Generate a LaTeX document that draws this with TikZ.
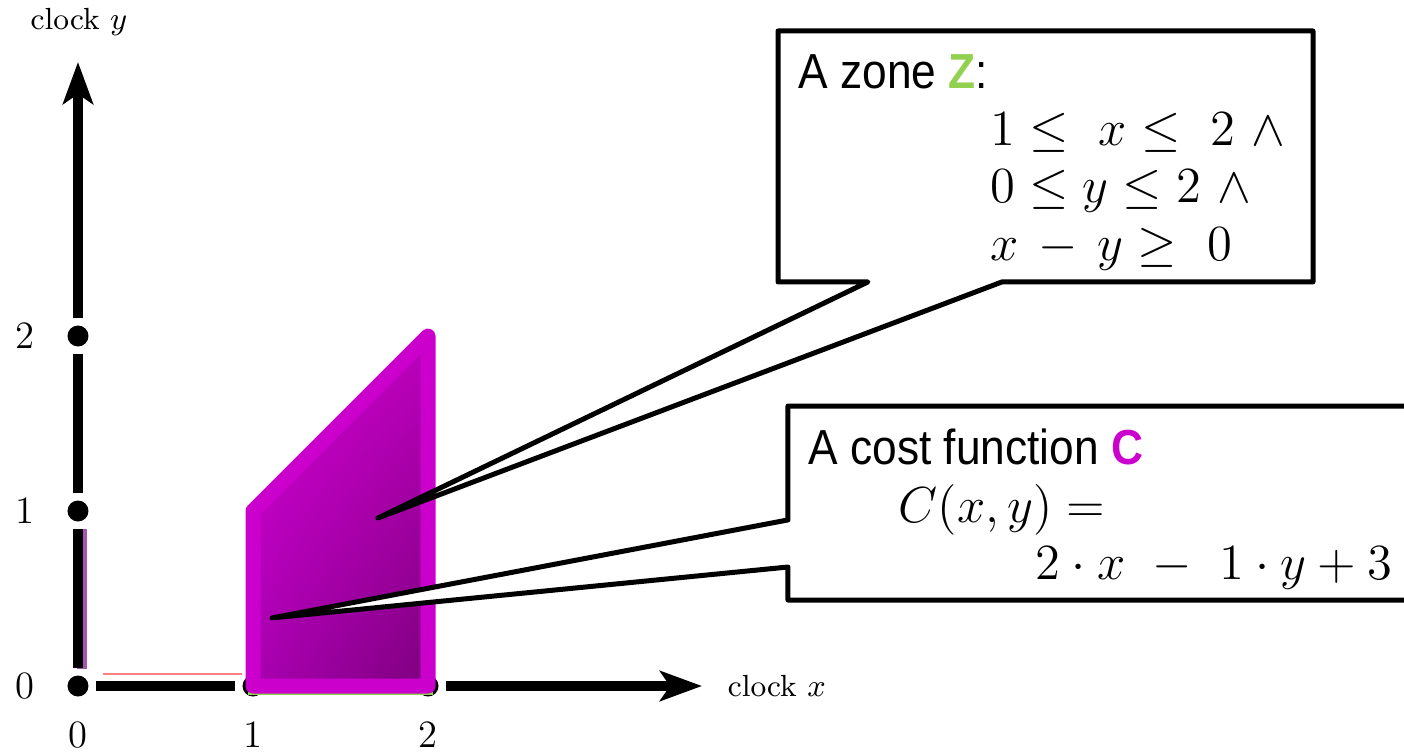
\documentclass[tikz,border=0pt]{standalone}
\usepackage{amsmath, amssymb}
\usepackage{fontspec}
\newfontfamily\calloutfont[FakeStretch=0.9]{Liberation Sans}
\usepackage{xcolor}
\usepackage{tikz}
\usetikzlibrary{arrows.meta, calc, shadings}

\definecolor{zonemag}{HTML}{CC00CC}
\definecolor{zonegreen}{HTML}{92D050}
\definecolor{zoneshadeA}{HTML}{D400D4}
\definecolor{zoneshadeB}{HTML}{BA00BA}
\definecolor{zoneshadeC}{HTML}{A800B0}
\definecolor{zoneshadeD}{HTML}{7E007E}
\definecolor{projpurple}{HTML}{A855B0}
\definecolor{projred}{HTML}{FF8080}

\begin{document}
\begin{tikzpicture}[x=1.75cm, y=1.75cm,
    axis/.style={line width=0.1cm, shorten <=0.07cm, shorten >=0.07cm},
    axisarrow/.style={line width=0.1cm, shorten <=0.07cm,
        -{Stealth[length=0.42cm, width=0.3cm, inset=0.1cm]}},
    dotmark/.style={circle, fill=black, inner sep=0pt, minimum size=0.21cm},
    zoneshape/.style={draw=zonemag, line width=0.15cm, line join=round,
        upper left=zoneshadeA, upper right=zoneshadeB,
        lower left=zoneshadeC, lower right=zoneshadeD},
    callout/.style={draw=black, fill=white, line width=0.05cm, line join=round},
    boxtext/.style={anchor=base west, inner sep=0pt,
        font=\calloutfont\fontsize{14}{16}\selectfont},
    mathtext/.style={anchor=base west, inner sep=0pt,
        font=\fontsize{14}{16}\selectfont},
    ticklabel/.style={inner sep=0pt, font=\fontsize{11}{13}\selectfont},
    clocklabel/.style={anchor=west, inner sep=0pt, font=\fontsize{8.7}{10}\selectfont}]

    % Canvas
    \clip (-0.4457,-0.3714) rectangle (7.577,3.92);

    % Projections of the zone on the axes
    \draw[projpurple, line width=0.1cm] (0.025,0.1) -- (0.025,0.9);
    \draw[projred, line width=0.2mm] (0.143,0.069) -- (0.937,0.069);

    % Dots on the axes
    \node[dotmark] (o) at (0,0) {};
    \node[dotmark] (x1) at (1,0) {};
    \node[dotmark] (x2) at (2,0) {};
    \node[dotmark] (y1) at (0,1) {};
    \node[dotmark] (y2) at (0,2) {};
    \coordinate (xtip) at (3.566,0);
    \coordinate (ytip) at (0,3.566);

    % Axes
    \draw[axis] (o) -- (y1);
    \draw[axis] (y1) -- (y2);
    \draw[axisarrow] (y2) -- (ytip);
    \draw[axis] (o) -- (x1);
    \draw[axis] (x1) -- (x2);
    \draw[axisarrow] (x2) -- (xtip);

    % Axis labels
    \node[clocklabel] (ylabel) at (-0.274,3.794) {clock $y$};
    \node[clocklabel] (xlabel) at (3.709,0) {clock $x$};
    \node[ticklabel] (t0) at (0,-0.28) {0};
    \node[ticklabel] (t1) at (1,-0.28) {1};
    \node[ticklabel] (t2) at (2,-0.28) {2};
    \node[ticklabel] (s0) at (-0.303,0) {0};
    \node[ticklabel] (s1) at (-0.303,1) {1};
    \node[ticklabel] (s2) at (-0.303,2) {2};

    % The zone
    \draw[zonegreen, line width=0.6pt] (0.97,-0.043) -- (2.03,-0.043);
    \shadedraw[zoneshape] (1,0) -- (1,1) -- (2,2) -- (2,0) -- cycle;

    % Callout for the zone
    \coordinate (ztip) at (1.714,0.96);
    \draw[callout] (4.0,3.743) -- (7.057,3.743) -- (7.057,2.309) -- (5.28,2.309)
        -- (ztip) -- (4.514,2.309) -- (4.0,2.309) -- cycle;
    \node[boxtext] (zonetitle) at (4.114,3.417)
        {A zone {\bfseries\color{zonegreen}Z}:};
    \node[mathtext] (zoneA) at (5.211,3.086) {$1 \le\ x \le\ 2\ \wedge$};
    \node[mathtext] (zoneB) at (5.211,2.76) {$0 \le y \le 2\ \wedge$};
    \node[mathtext] (zoneC) at (5.211,2.429) {$x\,-\,y \ge\ 0$};

    % Callout for the cost function
    \coordinate (ctip) at (1.109,0.389);
    \draw[callout] (4.057,1.6) -- (7.7,1.6) -- (7.7,0.491) -- (4.057,0.491)
        -- (4.057,0.68) -- (ctip) -- (4.057,0.949) -- cycle;
    \node[boxtext] (costtitle) at (4.171,1.263)
        {A cost function {\bfseries\color{zonemag}C}};
    \node[mathtext] (costA) at (4.686,0.937) {$C(x, y) =$};
    \node[mathtext] (costB) at (5.469,0.606) {$2\cdot x\ -\ 1\cdot y + 3$};
\end{tikzpicture}
\end{document}
